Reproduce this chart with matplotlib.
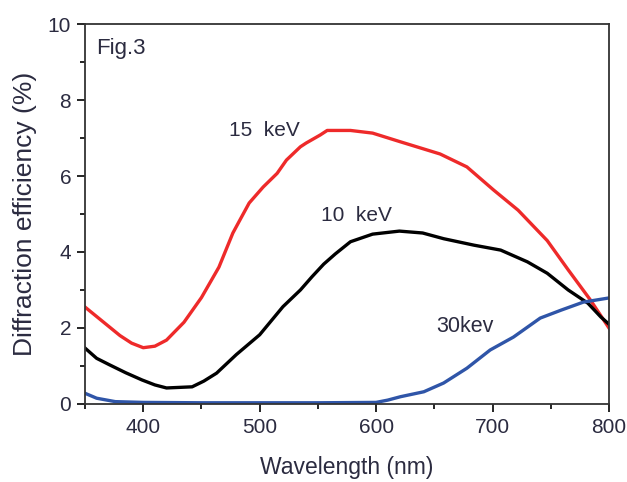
import numpy as np
import matplotlib.pyplot as plt

plt.rcParams['font.family'] = ['Liberation Sans', 'DejaVu Sans']

# 15 keV (red)
wl_15 = [350, 360, 370, 380, 390, 400, 410, 420, 435, 450, 465, 477, 483, 491,
         503, 515, 523, 535, 540, 552, 558, 578, 597, 621, 655, 678, 701,
         722, 747, 765, 784, 800]
eff_15 = [2.55, 2.3, 2.05, 1.8, 1.6, 1.48, 1.52, 1.68, 2.15, 2.8, 3.6, 4.5, 4.84,
          5.29, 5.71, 6.07, 6.42, 6.77, 6.87, 7.08, 7.2, 7.2, 7.13, 6.9, 6.58,
          6.24, 5.63, 5.1, 4.3, 3.53, 2.74, 2.0]

# 10 keV (black)
wl_10 = [350, 360, 371, 385, 399, 410, 420, 442, 452, 463, 480, 500, 520, 535,
         545, 555, 565, 578, 597, 620, 640, 658, 684, 707, 730, 747, 765, 782,
         793, 800]
eff_10 = [1.47, 1.2, 1.03, 0.82, 0.63, 0.5, 0.42, 0.45, 0.6, 0.81, 1.3, 1.82,
          2.56, 3.0, 3.35, 3.68, 3.95, 4.27, 4.47, 4.55, 4.5, 4.35, 4.18, 4.05,
          3.74, 3.44, 3.0, 2.65, 2.29, 2.1]

# 30 keV (blue)
wl_30 = [350, 360, 376, 400, 450, 500, 550, 600, 610, 621, 641, 658, 678, 698,
         718, 741, 759, 778, 800]
eff_30 = [0.28, 0.15, 0.06, 0.04, 0.03, 0.03, 0.03, 0.04, 0.1, 0.19, 0.32, 0.55,
          0.94, 1.42, 1.76, 2.26, 2.47, 2.68, 2.79]

text_c = '#2b2b40'

fig = plt.figure(figsize=(6.27, 4.82), dpi=100)
ax = fig.add_axes([0.1356, 0.162, 0.8356, 0.788])

ax.plot(wl_15, eff_15, color='#ee2a2a', lw=2.4)
ax.plot(wl_10, eff_10, color='black', lw=2.4)
ax.plot(wl_30, eff_30, color='#2f55a8', lw=2.4)

ax.set_xlim(350, 800)
ax.set_ylim(0, 10)
ax.set_xticks([400, 500, 600, 700, 800])
ax.set_xticks(np.arange(350, 801, 50), minor=True)
ax.set_yticks([0, 2, 4, 6, 8, 10])
ax.set_yticks(np.arange(1, 10, 2), minor=True)
ax.tick_params(which='major', direction='out', length=6, width=1.2,
               labelsize=15, labelcolor=text_c, pad=4)
ax.tick_params(which='minor', direction='out', length=3.5, width=1.2)
for s in ax.spines.values():
    s.set_linewidth(1.3)
    s.set_color('#333333')

ax.set_xlabel('Wavelength (nm)', fontsize=16.5, color=text_c, labelpad=14)
ax.set_ylabel('Diffraction efficiency (%)', fontsize=19, color=text_c, labelpad=8)

ax.text(0.022, 0.935, 'Fig.3', transform=ax.transAxes, fontsize=16,
        color=text_c, va='center')
ax.text(474, 7.2, '15  keV', fontsize=15, color=text_c, va='center')
ax.text(553, 4.95, '10  keV', fontsize=15, color=text_c, va='center')
ax.text(652, 2.05, '30kev', fontsize=15.5, color=text_c, va='center')

fig.savefig('out.png', dpi=100)
